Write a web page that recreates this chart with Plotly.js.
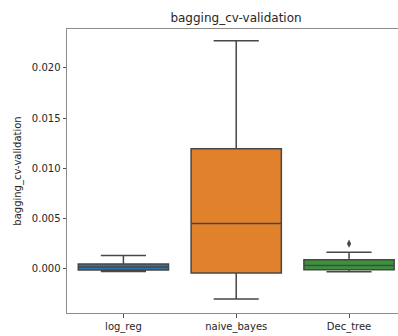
<!DOCTYPE html>
<html>
<head>
<meta charset="utf-8">
<script src="https://cdn.plot.ly/plotly-3.0.1.min.js"></script>
<style>html,body{margin:0;padding:0;background:#fff;}#chart{width:398px;height:336px;}</style>
</head>
<body>
<div id="chart"></div>
<script>
const categories = ["log_reg", "naive_bayes", "Dec_tree"];
const lowerFence = [-0.00030, -0.00305, -0.00033];
const q1 = [-0.00016, -0.00046, -0.00013];
const median = [0.00014, 0.00449, 0.00030];
const q3 = [0.00044, 0.01195, 0.00087];
const upperFence = [0.00130, 0.02272, 0.00160];
const outlierCats = ["Dec_tree"];
const outlierVals = [0.00247];
const colors = ["#3274a1", "#e1812c", "#3a923a"];

const traces = categories.map((c, i) => ({
  type: "box",
  x: [c],
  q1: [q1[i]],
  median: [median[i]],
  q3: [q3[i]],
  lowerfence: [lowerFence[i]],
  upperfence: [upperFence[i]],
  width: 0.8,
  whiskerwidth: 0.5,
  fillcolor: colors[i],
  line: {color: "#474747", width: 1.5},
  boxpoints: false,
  hoverinfo: "skip",
  showlegend: false
}));
traces.push({
  type: "scatter",
  mode: "markers",
  x: outlierCats,
  y: outlierVals,
  marker: {symbol: "diamond-tall", size: 6, color: "#474747"},
  showlegend: false,
  hoverinfo: "skip"
});

const layout = {
  width: 398, height: 336,
  margin: {l: 66.5, r: 0, t: 29.3, b: 22.7},
  paper_bgcolor: "#fff", plot_bgcolor: "#fff",
  font: {family: "DejaVu Sans", color: "#262626", size: 10},
  title: {text: "bagging_cv-validation", font: {size: 12, color: "#262626"},
          xref: "container", x: 0.593, xanchor: "center", yref: "container", y: 0.946, yanchor: "middle"},
  xaxis: {
    type: "category", categoryorder: "array", categoryarray: categories,
    range: [-0.5, 2.434], showgrid: false, zeroline: false,
    showline: true, mirror: true, linecolor: "#8c8c8c", linewidth: 1,
    ticks: "outside", ticklen: 3.5, tickcolor: "#555", tickfont: {size: 10, color: "#262626"}
  },
  yaxis: {
    range: [-0.00445, 0.02389], showgrid: false, zeroline: false,
    showline: true, linecolor: "#8c8c8c", linewidth: 1,
    ticks: "outside", ticklen: 3.5, tickcolor: "#555",
    tickvals: [0, 0.005, 0.01, 0.015, 0.02], ticktext: ["0.000", "0.005", "0.010", "0.015", "0.020"],
    tickfont: {size: 10, color: "#262626"},
    title: {text: "bagging_cv-validation", font: {size: 10, color: "#262626"}, standoff: 8}
  }
};
Plotly.newPlot("chart", traces, layout, {displayModeBar: false, staticPlot: true});
</script>
</body>
</html>
